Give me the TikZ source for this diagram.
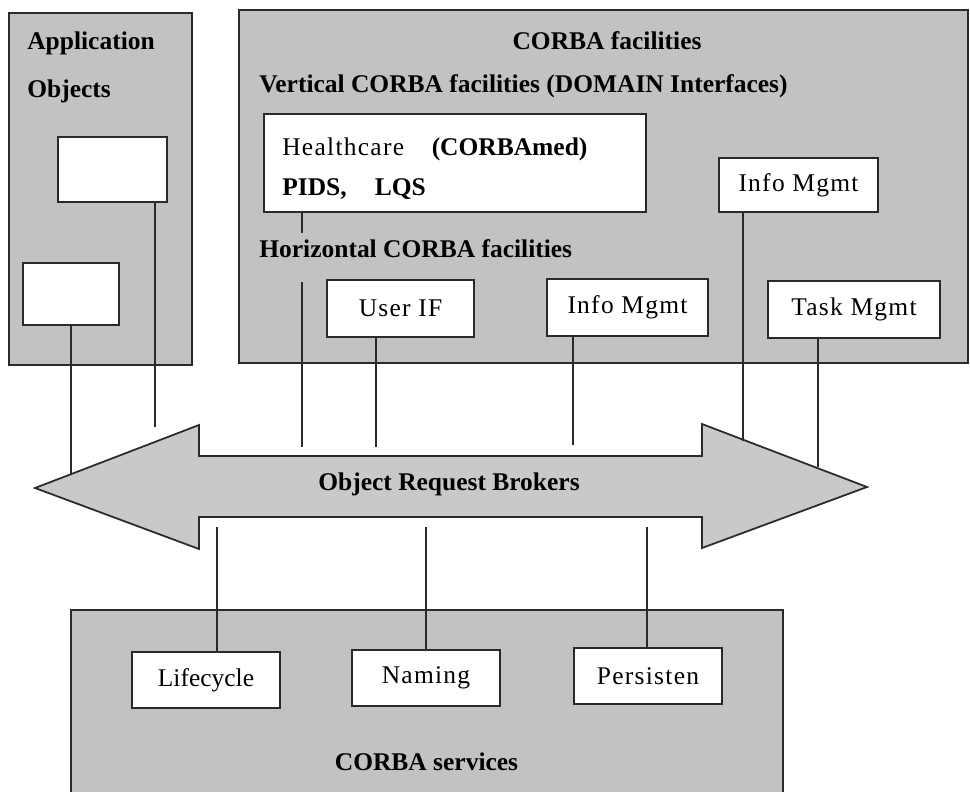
\documentclass[tikz,border=0pt]{standalone}
\usepackage{fontspec}
\setmainfont{Liberation Serif}
\newfontfamily\spaced[LetterSpace=5]{Liberation Serif}
\definecolor{panelgray}{HTML}{C2C2C2}
\definecolor{orbgray}{HTML}{C9C9C9}
\definecolor{edge}{HTML}{2A2A2A}
\tikzset{
  panel/.style={draw=edge, line width=1.1pt, fill=panelgray},
  facbox/.style={rectangle, draw=edge, line width=0.9pt, fill=white,
                 inner sep=0pt, font=\spaced\fontsize{14.5}{17}\selectfont},
  heading/.style={font=\bfseries\fontsize{14.5}{17}\selectfont, inner sep=0pt},
  link/.style={draw=edge, line width=0.7pt},
  orb/.style={draw=edge, line width=1pt, fill=orbgray},
}

\begin{document}
\begin{tikzpicture}[x=0.02cm, y=-0.02cm]
  \clip (0,0) rectangle (970,791);

  %% Panels
  \path[panel] (9,13) rectangle (192,365);
  \path[panel] (239,10) rectangle (968,363);
  \path[panel] (71,610) rectangle (783,810);

  %% Application objects
  \node[heading, anchor=base west] (apptitle) at (27,50) {Application};
  \node[heading, anchor=base west] (objtitle) at (27,97) {Objects};
  \node[facbox, minimum width=2.18cm, minimum height=1.3cm] (appa) at (112.5,169.5) {};
  \node[facbox, minimum width=1.92cm, minimum height=1.24cm] (appb) at (71,294) {};

  %% CORBA facilities
  \node[heading, anchor=base] (factitle) at (607,50) {CORBA facilities};
  \node[heading, anchor=base west] (verttitle) at (259,92)
    {Vertical CORBA facilities (DOMAIN Interfaces)};
  \node[facbox, minimum width=7.64cm, minimum height=1.96cm] (health) at (455,163) {};
  \node[anchor=base west, inner sep=0pt, font=\fontsize{14.5}{17}\selectfont]
    (healthtxt) at (282,155) {{\spaced Healthcare}\hspace{15pt}\textbf{(CORBAmed)}};
  \node[heading, anchor=base west] (pids) at (282,195) {PIDS,\hspace{16pt}LQS};
  \node[facbox, minimum width=3.18cm, minimum height=1.08cm] (vinfo) at (798.5,185) {Info Mgmt};

  \node[heading, anchor=base west] (hortitle) at (259,257) {Horizontal CORBA facilities};
  \node[facbox, minimum width=2.94cm, minimum height=1.14cm] (userif) at (400.5,308.5) {User IF};
  \node[facbox, minimum width=3.22cm, minimum height=1.14cm] (hinfo) at (627.5,307.5) {Info Mgmt};
  \node[facbox, minimum width=3.44cm, minimum height=1.14cm] (task) at (854,309.5) {Task Mgmt};

  %% Object Request Brokers
  \path[orb] (35,488) -- (199,425) -- (199,456) -- (702,456) -- (702,424)
    -- (867,487) -- (702,548) -- (702,517) -- (199,517) -- (199,549) -- cycle;
  \node[heading, anchor=base] (orb) at (449,490) {Object Request Brokers};

  %% CORBA services
  \node[facbox, minimum width=2.96cm, minimum height=1.12cm] (life) at (206,680)
    {\rmfamily Lifecycle};
  \node[facbox, minimum width=2.96cm, minimum height=1.12cm] (naming) at (426,678) {Naming};
  \node[facbox, minimum width=2.96cm, minimum height=1.12cm] (persist) at (648,676) {Persisten};
  \node[heading, anchor=base] (servtitle) at (426.5,770) {CORBA services};

  %% where the links meet the bus
  \coordinate (ea) at (155,427);
  \coordinate (eb) at (71,474);
  \coordinate (hcut) at (302,233);
  \coordinate (hres) at (302,282);
  \coordinate (eh) at (302,447);
  \coordinate (eu) at (376,447);
  \coordinate (ei) at (573,445);
  \coordinate (ev) at (743,441);
  \coordinate (et) at (818,467);
  \coordinate (sl) at (217,527);
  \coordinate (sn) at (426,527);
  \coordinate (sp) at (647,527);

  %% Links
  \foreach \nd/\ep in {appa/ea, appb/eb, userif/eu, hinfo/ei, vinfo/ev, task/et}
    \draw[link] (\nd.south -| \ep) -- (\ep);
  \draw[link] (health.south -| hcut) -- (hcut);
  \draw[link] (hres) -- (eh);
  \foreach \nd/\ep in {life/sl, naming/sn, persist/sp}
    \draw[link] (\ep) -- (\nd.north -| \ep);
\end{tikzpicture}
\end{document}
